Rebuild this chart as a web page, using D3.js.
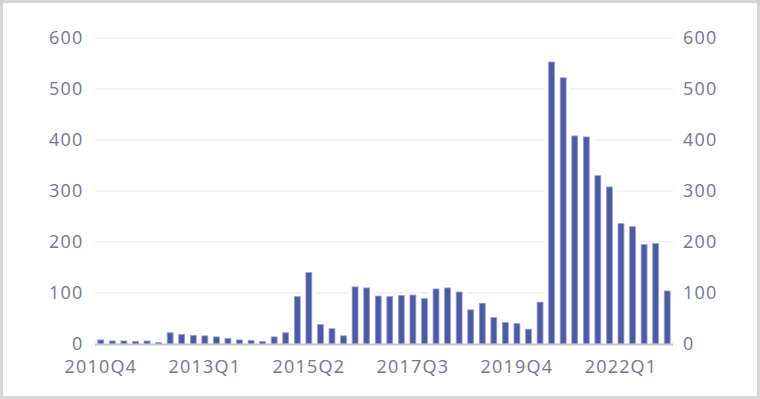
<!DOCTYPE html>
<html>
<head>
<meta charset="utf-8">
<script src="https://cdn.jsdelivr.net/npm/d3@7/dist/d3.min.js"></script>
<style>
  html, body { margin: 0; padding: 0; background: #fff; }
  svg { display: block; }
</style>
</head>
<body>
<svg id="chart" width="760" height="399"></svg>
<script>
const quarters = [
  "2010Q4",
  "2011Q1","2011Q2","2011Q3","2011Q4",
  "2012Q1","2012Q2","2012Q3","2012Q4",
  "2013Q1","2013Q2","2013Q3","2013Q4",
  "2014Q1","2014Q2","2014Q3","2014Q4",
  "2015Q1","2015Q2","2015Q3","2015Q4",
  "2016Q1","2016Q2","2016Q3","2016Q4",
  "2017Q1","2017Q2","2017Q3","2017Q4",
  "2018Q1","2018Q2","2018Q3","2018Q4",
  "2019Q1","2019Q2","2019Q3","2019Q4",
  "2020Q1","2020Q2","2020Q3","2020Q4",
  "2021Q1","2021Q2","2021Q3","2021Q4",
  "2022Q1","2022Q2","2022Q3","2022Q4",
  "2023Q1"
];
const values = [
  8, 6, 6, 5, 6, 3, 22, 19, 17, 16,
  14, 11, 8, 7, 5, 14, 22, 93, 140, 38,
  30, 16, 112, 110, 94, 93, 95, 96, 89, 108,
  110, 102, 67, 80, 52, 42, 40, 29, 82, 553,
  522, 408, 406, 330, 308, 236, 230, 195, 197, 104
];
const yTicks = [0, 100, 200, 300, 400, 500, 600];
const xTickLabels = ["2010Q4", "2013Q1", "2015Q2", "2017Q3", "2019Q4", "2022Q1"];

const svg = d3.select("#chart");
const pLeft = 95, pRight = 673, pTop = 38, pBottom = 344;
const fontFam = "'Open Sans', 'Noto Sans', sans-serif";
const textColor = "#75758e";

const x = d3.scaleBand().domain(quarters).range([pLeft, pRight]).paddingInner(0.4).paddingOuter(0.2);
const y = d3.scaleLinear().domain([0, 600]).range([pBottom, pTop]);

// outer frame
svg.append("rect").attr("x", 1.5).attr("y", 1.5).attr("width", 757).attr("height", 396)
  .attr("fill", "#fff").attr("stroke", "#d6d6d6").attr("stroke-width", 3);

// gridlines
svg.append("g").selectAll("line").data(yTicks.filter(d => d > 0)).join("line")
  .attr("x1", pLeft).attr("x2", pRight)
  .attr("y1", d => y(d)).attr("y2", d => y(d))
  .attr("stroke", "#eceef7").attr("stroke-width", 1.5);

// bar halos (white gaps in gridlines)
svg.append("g").selectAll("rect").data(values).join("rect")
  .attr("x", (d, i) => x(quarters[i]) - 4)
  .attr("width", x.bandwidth() + 8)
  .attr("y", d => y(d) - 2)
  .attr("height", d => pBottom - y(d) + 2)
  .attr("fill", "#fff");

// bars
svg.append("g").selectAll("rect").data(values).join("rect")
  .attr("x", (d, i) => x(quarters[i]) + 0.5)
  .attr("width", x.bandwidth() - 1)
  .attr("y", d => y(d))
  .attr("height", d => pBottom - y(d))
  .attr("fill", "#4d5aa4")
  .attr("stroke", "#9aa3d3")
  .attr("stroke-width", 0.8);

// baseline
svg.append("line").attr("x1", pLeft).attr("x2", pRight)
  .attr("y1", pBottom + 0.5).attr("y2", pBottom + 0.5)
  .attr("stroke", "#c3c3cf").attr("stroke-width", 2);

function styleText(g, ls) {
  g.select(".domain").remove();
  g.selectAll("text").attr("fill", textColor).attr("font-size", 18)
    .attr("font-family", fontFam).style("letter-spacing", ls);
}

// left y axis
const gL = svg.append("g").attr("transform", "translate(83.5,0)")
  .call(d3.axisLeft(y).tickValues(yTicks).tickSize(0).tickPadding(0));
styleText(gL, "1.2px");

// right y axis
const gR = svg.append("g").attr("transform", "translate(683,0)")
  .call(d3.axisRight(y).tickValues(yTicks).tickSize(0).tickPadding(0));
styleText(gR, "1.2px");

// x axis
const gX = svg.append("g").attr("transform", `translate(0,${pBottom + 16})`)
  .call(d3.axisBottom(x).tickValues(xTickLabels).tickSize(0).tickPadding(0));
styleText(gX, "1.2px");
</script>
</body>
</html>
